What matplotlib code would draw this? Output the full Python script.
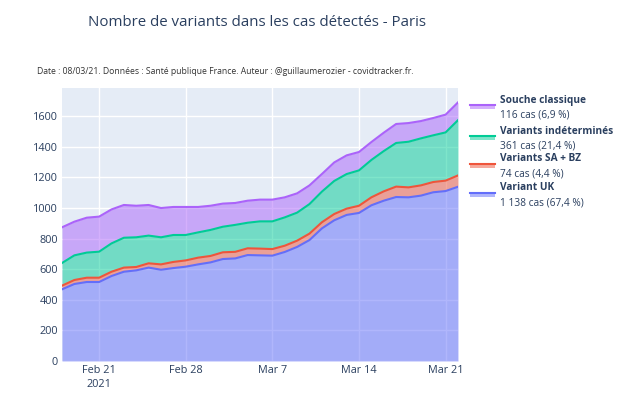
import numpy as np
import pandas as pd
import matplotlib
matplotlib.use("Agg")
import matplotlib.pyplot as plt
from matplotlib.lines import Line2D
from matplotlib.patches import Rectangle

plt.rcParams["font.family"] = ["Open Sans", "DejaVu Sans"]
TXT = "#2a3f5f"

dates = pd.date_range("2021-02-18", "2021-03-22", freq="D")

uk = [468, 503, 516, 516, 555, 583, 592, 610, 596, 607, 616, 631, 644, 666, 670, 692, 690,
      688, 712, 745, 790, 866, 919, 954, 967, 1017, 1047, 1071, 1069, 1080, 1102, 1110, 1138]
sa_bz = [24, 26, 28, 28, 28, 27, 22, 28, 35, 40, 41, 44, 42, 44, 43, 44, 44,
         43, 41, 41, 42, 40, 41, 41, 47, 52, 61, 68, 65, 67, 67, 68, 74]
indet = [148, 161, 164, 170, 185, 195, 194, 181, 177, 176, 166, 165, 170, 167, 176, 167, 178,
         181, 185, 183, 193, 200, 216, 226, 231, 244, 263, 285, 298, 307, 305, 315, 361]
classique = [233, 220, 228, 229, 222, 214, 206, 200, 191, 183, 183, 166, 158, 151, 143, 144, 142,
             142, 131, 126, 122, 115, 121, 122, 120, 117, 120, 124, 122, 113, 113, 116, 116]

names = ["Variant UK", "Variants SA + BZ", "Variants indéterminés", "Souche classique"]
counts = ["1 138 cas (67,4 %)", "74 cas (4,4 %)", "361 cas (21,4 %)", "116 cas (6,9 %)"]
colors = ["#636efa", "#EF553B", "#00cc96", "#ab63fa"]
series = [uk, sa_bz, indet, classique]

fig = plt.figure(figsize=(6.4, 4.08), dpi=100)
ax = fig.add_axes([62 / 640, 1 - 361 / 408, (458 - 62) / 640, (361 - 88) / 408])
ax.set_facecolor("#E5ECF6")

base = np.zeros(len(dates))
for vals, col in zip(series, colors):
    top = base + np.array(vals)
    ax.fill_between(dates, base, top, color=col, alpha=0.5, lw=0)
    ax.plot(dates, top, color=col, lw=1.5)
    base = top

ax.set_xlim(dates[0], dates[-1])
ax.set_ylim(0, 1783)
ax.set_yticks(range(0, 1601, 200))
ticks = pd.to_datetime(["2021-02-21", "2021-02-28", "2021-03-07", "2021-03-14", "2021-03-21"])
ax.set_xticks(ticks)
ax.set_xticklabels(["Feb 21\n2021", "Feb 28", "Mar 7", "Mar 14", "Mar 21"], linespacing=1.3)
ax.grid(color="white", lw=1)
ax.set_axisbelow(True)
for s in ax.spines.values():
    s.set_visible(False)
ax.tick_params(length=0, colors=TXT, labelsize=7.8, pad=3)

fig.text(257 / 640, 1 - 22 / 408, "Nombre de variants dans les cas détectés - Paris",
         ha="center", va="center", fontsize=10.8, color=TXT)
fig.text(37 / 640, 1 - 71 / 408,
         "Date : 08/03/21. Données : Santé publique France. Auteur : @guillaumerozier - covidtracker.fr.",
         ha="left", va="center", fontsize=6.2, color="#333333")

# legend (reverse stacking order)
ys = [100, 131, 159, 188]
for i, y in enumerate(ys):
    k = 3 - i
    fig.add_artist(Rectangle((470 / 640, 1 - (y + 9) / 408), 25 / 640, 4 / 408,
                             transform=fig.transFigure, color=colors[k], alpha=0.5, lw=0))
    fig.add_artist(Line2D([470 / 640, 495 / 640], [1 - (y + 5) / 408] * 2,
                          transform=fig.transFigure, color=colors[k], lw=1.5))
    fig.text(500 / 640, 1 - y / 408, names[k], fontsize=7.3, fontweight="bold",
             color=TXT, va="center")
    fig.text(500 / 640, 1 - (y + 15) / 408, counts[k], fontsize=7.3, color=TXT, va="center")

fig.savefig("out.png", dpi=100, facecolor="white")
